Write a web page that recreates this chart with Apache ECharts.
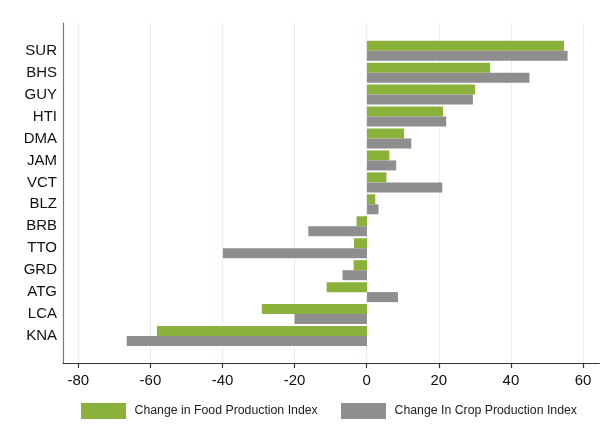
<!DOCTYPE html>
<html>
<head>
<meta charset="utf-8">
<script src="https://cdn.jsdelivr.net/npm/echarts@6/dist/echarts.min.js"></script>
<style>html,body{margin:0;padding:0;background:#fff;}#c{width:607px;height:439px;}</style>
</head>
<body>
<div id="c"></div>
<script>
const categories = ['SUR','BHS','GUY','HTI','DMA','JAM','VCT','BLZ','BRB','TTO','GRD','ATG','LCA','KNA'];
const foodValues = [54.7, 34.2, 30.0, 21.1, 10.3, 6.2, 5.4, 2.3, -2.9, -3.6, -3.7, -11.2, -29.2, -58.3];
const cropValues = [55.7, 45.1, 29.4, 22.0, 12.3, 8.1, 20.9, 3.2, -16.3, -40.0, -6.8, 8.6, -20.1, -66.7];
const seriesNames = ['Change in Food Production Index', 'Change In Crop Production Index'];
const tickMin = -80, tickMax = 60, tickStep = 20;
const axisMin = -84.4, axisMax = 64.5;

const FONT = 'Liberation Sans, Arial, Helvetica, sans-serif';
const GREEN = '#8ab13a';
const GRAY = '#8e8e8e';

const chart = echarts.init(document.getElementById('c'), null, {renderer: 'canvas'});
chart.setOption({
  animation: false,
  backgroundColor: '#ffffff',
  textStyle: {fontFamily: FONT},
  grid: [
    {left: 63, right: 7.7, top: 23, bottom: 76},      // axis lines frame
    {left: 78.3, right: 24, top: 23, bottom: 76},     // ticks, labels, grid lines
    {left: 63, right: 7.7, top: 39.7, bottom: 92}     // bars
  ],
  xAxis: [
    {gridIndex: 0, type: 'value', min: axisMin, max: axisMax,
     axisLine: {show: true, onZero: false, lineStyle: {color: '#333', width: 1.2}},
     axisTick: {show: false}, axisLabel: {show: false}, splitLine: {show: false}},
    {gridIndex: 1, type: 'value', min: tickMin, max: tickMax, interval: tickStep,
     axisLine: {show: false, onZero: false},
     axisTick: {show: true, inside: false, length: 5, lineStyle: {color: '#333', width: 1.2}},
     axisLabel: {show: true, fontSize: 15, color: '#111', margin: 10, fontFamily: FONT},
     splitLine: {show: true, lineStyle: {color: '#e6eef0', width: 1}}},
    {gridIndex: 2, type: 'value', min: axisMin, max: axisMax, show: false}
  ],
  yAxis: [
    {gridIndex: 0, type: 'value', min: 0, max: 1,
     axisLine: {show: true, onZero: false, lineStyle: {color: '#777', width: 1.2}},
     axisTick: {show: false}, axisLabel: {show: false}, splitLine: {show: false}},
    {gridIndex: 1, type: 'value', show: false, axisLine: {onZero: false}},
    {gridIndex: 2, type: 'category', data: categories, inverse: true,
     axisLine: {show: false, onZero: false}, axisTick: {show: false}, splitLine: {show: false},
     axisLabel: {show: true, fontSize: 15, color: '#111', margin: 6, fontFamily: FONT}}
  ],
  legend: [
    {left: 81, top: 403, padding: 0, itemWidth: 45, itemHeight: 16, icon: 'rect', data: [seriesNames[0]],
     textStyle: {fontSize: 12.3, color: '#222', fontFamily: FONT, padding: [0, 0, 0, 3.5]}},
    {left: 341, top: 403, padding: 0, itemWidth: 45, itemHeight: 16, icon: 'rect', data: [seriesNames[1]],
     textStyle: {fontSize: 12.3, color: '#222', fontFamily: FONT, padding: [0, 0, 0, 3.5]}}
  ],
  series: [
    {name: seriesNames[0], type: 'bar', xAxisIndex: 2, yAxisIndex: 2, data: foodValues,
     barWidth: 10, barGap: '0%', itemStyle: {color: GREEN}},
    {name: seriesNames[1], type: 'bar', xAxisIndex: 2, yAxisIndex: 2, data: cropValues,
     barWidth: 10, barGap: '0%', itemStyle: {color: GRAY}}
  ]
});
</script>
</body>
</html>
